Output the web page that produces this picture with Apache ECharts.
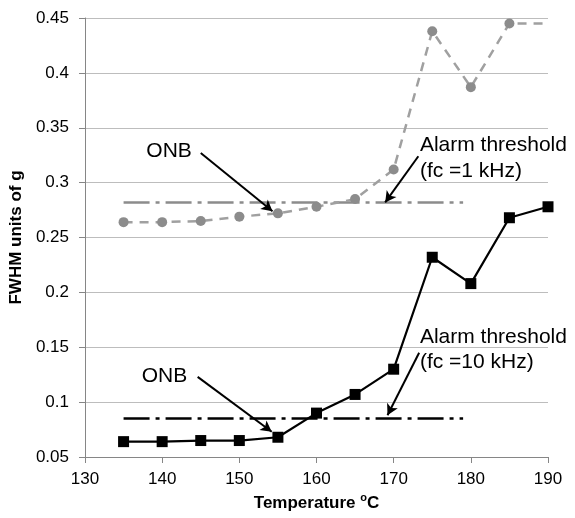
<!DOCTYPE html>
<html><head><meta charset="utf-8">
<script src="https://cdn.jsdelivr.net/npm/echarts@6/dist/echarts.min.js"></script>
<style>html,body{margin:0;padding:0;background:#fff}#c{width:575px;height:518px}</style>
</head><body><div id="c"></div>
<script>
var temps = [135,140,145,150,155,160,165,170,175,180,185,190];
var fwhm1k = [0.264,0.264,0.265,0.269,0.272,0.278,0.285,0.312,0.438,0.387,0.445,0.445];
var fwhm10k = [0.064,0.064,0.065,0.065,0.068,0.090,0.107,0.130,0.232,0.208,0.268,0.278];
var thresholdRange = [135,179];
var threshold1k = 0.282;
var threshold10k = 0.085;
var xTicks = [130,140,150,160,170,180,190];
var yTicks = [0.05,0.1,0.15,0.2,0.25,0.3,0.35,0.4,0.45];

var font = 'Liberation Sans, Arial, sans-serif';
var chart = echarts.init(document.getElementById('c'));

function pts(xs, ys){ return xs.map(function(x,i){ return [x, ys[i]]; }); }
var gray = pts(temps, fwhm1k).map(function(p,i){
  return i === temps.length-1 ? {value:p, symbol:'none'} : p;
});

function arrow(a,b){ return [{coord:a},{coord:b}]; }
function txt(coord, text, align, lh){
  return {coord:coord, symbol:'rect', symbolSize:1, itemStyle:{color:'rgba(0,0,0,0)'},
    label:{show:true, position:'inside', formatter:text, color:'#000', fontFamily:font, fontSize:21,
      align:align||'left', verticalAlign:'middle', lineHeight:lh||24}};
}

chart.setOption({
  animation:false,
  grid:{left:84,right:27,top:18,bottom:61},
  xAxis:{type:'value',min:xTicks[0],max:xTicks[xTicks.length-1],interval:10,
    name:'{a|Temperature }{s|o}{a|C}',nameLocation:'middle',nameGap:31,
    nameTextStyle:{rich:{a:{fontFamily:font,fontSize:17,fontWeight:'bold',color:'#000'},s:{fontFamily:font,fontSize:11,fontWeight:'bold',color:'#000',verticalAlign:'top',padding:[0,0,9,0]}}},
    axisLine:{lineStyle:{color:'#868686',width:1}},
    axisTick:{show:true,length:6,lineStyle:{color:'#868686'}},
    axisLabel:{color:'#000',fontFamily:font,fontSize:17,margin:14},
    splitLine:{show:false}},
  yAxis:{type:'value',min:yTicks[0],max:yTicks[yTicks.length-1],interval:0.05,
    name:'FWHM units of g',nameLocation:'middle',nameGap:54,
    nameTextStyle:{fontFamily:font,fontSize:17,fontWeight:'bold',color:'#000'},
    axisLine:{show:true,lineStyle:{color:'#868686',width:1}},
    axisTick:{show:true,length:6,lineStyle:{color:'#868686'}},
    axisLabel:{color:'#000',fontFamily:font,fontSize:17,margin:16,formatter:function(v){return String(parseFloat(v.toFixed(2)));}},
    splitLine:{show:true,lineStyle:{color:'#bdbdbd',width:1}}},
  series:[
    {type:'line',data:[[thresholdRange[0],threshold1k],[thresholdRange[1],threshold1k]],symbol:'none',
      lineStyle:{color:'#8c8c8c',width:2.5,type:[26,6,4,6]},z:2},
    {type:'line',data:[[thresholdRange[0],threshold10k],[thresholdRange[1],threshold10k]],symbol:'none',
      lineStyle:{color:'#000',width:2.5,type:[26,6,4,6]},z:2},
    {type:'line',data:gray,symbol:'circle',symbolSize:10,
      itemStyle:{color:'#8c8c8c'},lineStyle:{color:'#a0a0a0',width:2.5,type:[9,7]},z:3},
    {type:'line',data:pts(temps, fwhm10k),symbol:'rect',symbolSize:11,
      itemStyle:{color:'#000'},lineStyle:{color:'#000',width:2.2},z:3,
      markLine:{silent:true,symbol:['none','arrow'],symbolSize:[9,11],
        lineStyle:{color:'#000',width:2,type:'solid'},label:{show:false},
        data:[
          arrow([145.0,0.327],[154.3,0.274]),
          arrow([173.2,0.324],[168.9,0.282]),
          arrow([144.6,0.123],[154.2,0.073]),
          arrow([173.3,0.145],[169.2,0.088])
        ]},
      markPoint:{silent:true,data:[
          txt([140.9,0.329],'ONB','center'),
          txt([173.4,0.322],'Alarm threshold\n(fc =1 kHz)','left',26),
          txt([140.3,0.124],'ONB','center'),
          txt([173.4,0.1475],'Alarm threshold\n(fc =10 kHz)','left',25)
        ]}}
  ]
});
</script></body></html>
